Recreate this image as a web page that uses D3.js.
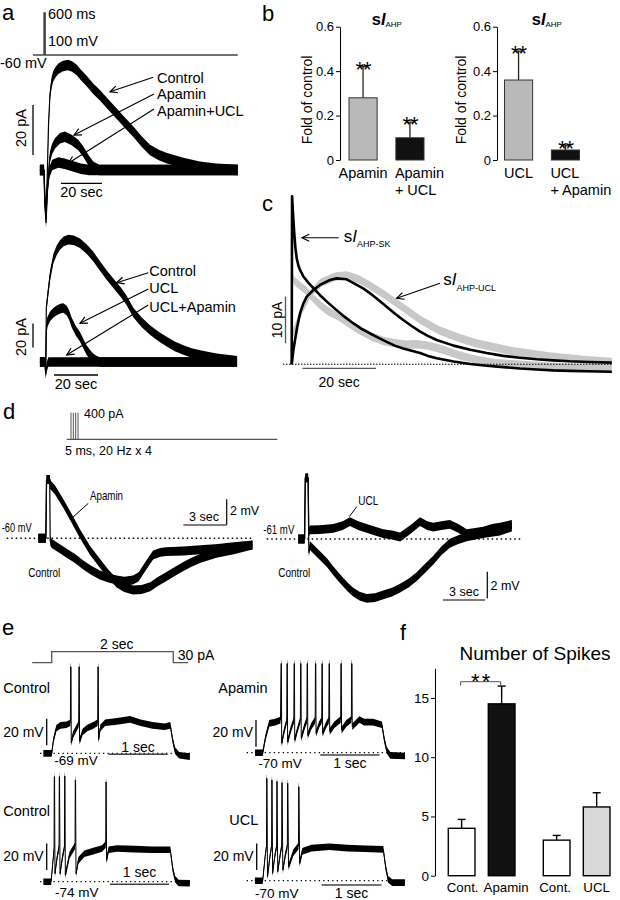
<!DOCTYPE html>
<html><head><meta charset="utf-8">
<script src="https://cdn.jsdelivr.net/npm/d3@7"></script>
<style>
body{margin:0;background:#fff}
svg{display:block;font-family:"Liberation Sans",Arial,Helvetica,sans-serif}
</style></head><body>
<svg id="fig" width="620" height="900"></svg>
<script>
// ---------------- DATA ----------------
// Panel a: voltage command (s, mV) and sIAHP traces (s, pA)
const aCommand = [[-5.4,-60],[0,-60],[0,40],[0.6,40],[0.6,-60],[94.5,-60]];
const aTopControl = [[-2,0],[0,0],[0.4,-10],[0.9,-18],[1.5,-5],[2.2,18],[2.9,30],[3.7,35],[4.5,37.5],[5.5,39],[7,40.5],[9,41.5],[11.5,42],[13.5,41.5],[16,40],[18,38],[20.8,35.6],[24,32.5],[27.3,29.9],[31,26.5],[34.6,23.3],[39,19.3],[43.6,15.3],[47.5,11.5],[51.7,8],[56,6],[60,4.7],[68,2.8],[76,1.3],[84,0.5],[94.5,0]];
const aTopApamin = [[-2,0],[0,0],[0.4,-12],[1,-19],[1.7,-6],[2.9,5.3],[4,8.5],[5.4,10.7],[7.8,12.7],[10.2,13.3],[13.5,12],[16.7,10],[19.2,7.3],[21.6,4],[24,1.3],[27,0],[94.5,0]];
const aTopApaminUCL = [[-2,0],[0,0],[0.4,-14],[1,-21],[1.7,-8],[2.6,-1],[4,2],[7,3],[10,2.5],[14,1.5],[18,0.5],[22,0],[94.5,0]];
const aBotControl = [[-2.3,0],[0,0],[0.3,-8],[0.6,45],[1.2,55],[2.3,72],[3.8,86],[5.3,93],[6.8,97.5],[8.5,100.5],[10.6,102],[13,101.5],[15.9,99],[19,94],[21.9,88],[25,80],[28,72.5],[31.8,64],[34.5,58],[37,51.7],[40.2,41],[44,33],[47.7,26.7],[51.5,21.5],[55.3,17],[59,13],[62.9,10],[66.7,7.5],[70.5,5.8],[78,3],[85.6,1.4],[87.3,1]];
const aBotUCL = [[-2.3,0],[0,0],[0.3,-8],[0.6,25],[1,33],[2.3,38],[3.8,41],[5.3,43],[7,44.5],[8.3,45],[9.8,43],[11,39],[12.1,33],[14,26],[15.9,21],[17.5,15],[18.9,10],[20.5,6],[21.9,3],[23.5,1],[25,0],[87.3,0]];
const aBotUCLApamin = [[-2.3,0],[0,0],[0.3,-10],[0.8,-4],[1.5,0],[87.3,0]];

// Panel b: fold of control
const bLeftCats = [["Apamin"],["Apamin","+ UCL"]];
const bLeftMeans = [0.28, 0.10];
const bLeftErr = [0.14, 0.07];
const bRightCats = [["UCL"],["UCL","+ Apamin"]];
const bRightMeans = [0.36, 0.045];
const bRightErr = [0.13, 0.019];
const bTicks = [0, 0.2, 0.4, 0.6];

// Panel c: sIAHP components (s, pA)
const cGraySK = [[0.3,19],[0.6,18],[1.2,17.5],[2,17],[3.7,15.9],[6,14],[8,12.5],[10,11.3],[12.8,10.2],[15,9],[18,7.5],[21.8,5.9],[25,5],[28,4.5],[31,4.2],[34,4.3],[37,4.0],[40,3.4],[43,2.6],[46,1.8],[50,1.0],[55,0.3],[60,0],[70,-0.5],[80,-0.9],[87,-1]];
const cGrayUCL = [[0,6],[0.5,7],[1.5,9],[3,12],[5,15],[8,17.5],[12,18.8],[15,19],[18,18.3],[21,17],[25,15],[30,12.3],[35,9.5],[40,7.3],[45,5.8],[50,4.5],[60,2.8],[70,1.7],[80,0.9],[87,0.5]];
const cFitSK = [[0,0],[0.1,36],[0.3,33],[0.63,28.8],[1,25],[1.36,22.7],[1.8,21.2],[2.26,20.2],[3.17,18.8],[4.5,17.5],[5.9,16.3],[7.7,14.8],[10,13.1],[12.2,11.6],[14.5,10.1],[16.7,8.8],[19,7.6],[21.3,6.6],[23.5,5.7],[25.8,4.8],[28,4.0],[30.3,3.4],[32.6,2.9],[34.9,2.4],[37,1.8],[39.4,1.3],[44,0.6],[48.5,0.06],[53,-0.3],[57.5,-0.6],[62,-0.9],[66.6,-1.1],[71,-1.3],[75.6,-1.4],[81,-1.5],[87,-1.6]];
const cFitUCL = [[0,0],[0.45,3],[0.9,5.2],[1.5,8],[2.26,10.9],[3.1,12.9],[4.08,14.5],[5.9,15.9],[7.7,17],[10.4,18.05],[12.2,18.4],[14.9,18.2],[17.7,17],[19.5,16.2],[21.3,15.2],[23.5,13.8],[25.8,12.3],[28,10.9],[30.3,9.5],[32.6,8.2],[34.9,7],[37,6.1],[39.4,5.2],[44,4],[48.5,3.1],[53,2.4],[57.5,1.8],[62,1.4],[66.6,1.07],[71,0.85],[75.6,0.64],[81,0.5],[87,0.35]];

// Panel d: stimulus pulses (ms) and membrane potential (s, mV)
const dPulses = [0, 50, 100, 150];
const dLeftControl = [[-0.67,0],[-0.15,0],[-0.1,4.6],[0.12,4.6],[0.15,-0.2],[0.26,-0.4],[0.8,-0.8],[1.3,-1.17],[1.9,-1.6],[2.45,-2.08],[3.0,-2.5],[3.6,-2.87],[4.2,-3.1],[4.77,-3.26],[5.3,-3.35],[5.9,-3.26],[6.3,-3.0],[6.6,-2.48],[7.0,-1.8],[7.3,-1.3],[7.8,-1.1],[8.2,-1.04],[9.4,-1.0],[10.6,-0.9],[11.8,-0.8],[12.9,-0.65],[14.2,-0.52]];
const dLeftApamin = [[-0.67,0],[-0.15,0],[-0.1,4.6],[0.12,4.6],[0.15,4.2],[0.49,3.77],[1.06,2.73],[1.64,1.56],[2.2,0.39],[2.9,-0.91],[3.6,-1.95],[4.2,-2.8],[4.77,-3.5],[5.3,-3.85],[5.9,-4.04],[6.5,-4.0],[7.1,-3.78],[7.6,-3.4],[8.2,-3.0],[8.8,-2.6],[9.4,-2.2],[10.0,-1.85],[10.6,-1.56],[11.7,-1.17],[12.9,-0.9],[14.2,-0.52]];
const dRightUCL = [[-0.55,0],[-0.1,0],[-0.05,4.6],[0.15,4.6],[0.2,0.5],[0.28,0.68],[1.0,0.7],[1.94,0.8],[2.6,1.0],[3.12,1.3],[3.7,1.0],[4.3,0.8],[4.9,0.6],[5.48,0.4],[6.1,0.3],[6.67,0.15],[7.4,0.7],[8.09,1.3],[8.6,1.0],[9.03,0.9],[9.6,1.0],[10.2,1.1],[10.8,0.8],[11.4,0.4],[12.0,0.5],[12.57,0.6],[13.2,0.8],[13.76,0.9],[14.6,1.1]];
const dRightControl = [[-0.55,0],[-0.1,0],[-0.05,4.6],[0.15,4.6],[0.2,-1.0],[0.28,-0.5],[0.99,-1.25],[1.5,-1.8],[1.94,-2.4],[2.3,-2.85],[2.65,-3.26],[3.0,-3.65],[3.35,-4.0],[3.8,-4.3],[4.3,-4.46],[4.9,-4.4],[5.48,-4.2],[6.1,-4.0],[6.67,-3.7],[7.3,-3.3],[7.85,-2.83],[8.45,-2.2],[9.03,-1.58],[9.6,-0.9],[10.2,-0.32],[10.8,-0.05],[11.4,0.17],[12.57,0.4],[13.76,0.6],[14.6,0.9]];

// Panel e: current step (s, pA) and firing (s, mV above rest)
const eCommand = [[-0.33,0],[0,0],[0,30],[2.05,30],[2.05,0],[2.3,0]];
const eControl1 = [[-0.14,0],[0,0],[0.03,10],[0.08,19],[0.15,21],[0.25,21.5],[0.315,23],[0.32,65],[0.325,65],[0.33,8],[0.36,14],[0.42,19],[0.455,22],[0.46,65],[0.465,65],[0.47,9],[0.52,16],[0.6,19],[0.7,21],[0.775,23],[0.78,65],[0.785,65],[0.79,10],[0.82,19],[0.9,23],[1.1,24],[1.32,25.5],[1.5,23],[1.7,21],[1.9,20],[2.0,21],[2.04,10],[2.08,2],[2.15,-1.5],[2.33,-2.5]];
const eApamin = [[-0.14,0],[-0.01,0],[0.04,12],[0.1,22],[0.2,23],[0.29,24.5],[0.30,67],[0.305,67],[0.31,7],[0.35,16],[0.395,24],[0.40,67],[0.405,67],[0.41,8],[0.46,17],[0.515,24.5],[0.52,67],[0.525,67],[0.53,9.5],[0.58,18],[0.625,24.5],[0.63,67],[0.635,67],[0.64,11],[0.69,19],[0.735,24.5],[0.74,67],[0.745,67],[0.75,13],[0.81,20],[0.875,24.5],[0.88,67],[0.885,67],[0.89,14.5],[0.94,21],[0.985,24.5],[0.99,67],[0.995,67],[1.0,14.5],[1.06,21],[1.105,24.5],[1.11,67],[1.115,67],[1.12,16],[1.2,21],[1.305,25],[1.31,67],[1.315,67],[1.32,17],[1.4,22],[1.485,25],[1.49,67],[1.495,67],[1.5,19.5],[1.6,24],[1.62,25],[1.7,23],[1.85,23],[2.0,21],[2.04,10],[2.08,2],[2.14,-2],[2.39,-2.5]];
const eControl2 = [[-0.14,0],[-0.01,0],[0.02,15],[0.04,25],[0.044,79],[0.048,79],[0.055,6],[0.09,18],[0.124,26],[0.128,79],[0.132,79],[0.14,6],[0.18,18],[0.215,26],[0.219,79.5],[0.223,79.5],[0.23,5],[0.3,20],[0.394,27],[0.398,76.5],[0.402,76.5],[0.41,6],[0.45,16],[0.55,21],[0.7,23],[0.85,25],[0.911,28],[0.915,75],[0.919,75],[0.925,16],[0.96,24],[1.1,25],[1.4,24.5],[1.7,24],[2.0,24],[2.04,10],[2.08,2],[2.14,-1],[2.33,-1.2]];
const eUCL = [[-0.14,0],[-0.01,0],[0.03,18],[0.053,26],[0.057,77],[0.061,77],[0.07,3],[0.11,18],[0.138,26],[0.142,75.7],[0.146,75.7],[0.155,5.5],[0.19,18],[0.222,26],[0.226,74.5],[0.23,74.5],[0.24,6.8],[0.28,19],[0.306,26],[0.31,73.7],[0.314,73.7],[0.325,8],[0.37,20],[0.401,26],[0.405,73.3],[0.409,73.3],[0.42,10.5],[0.5,21],[0.586,26],[0.59,70.7],[0.594,70.7],[0.605,13],[0.65,22],[0.8,24.5],[1.1,25.5],[1.4,24.5],[1.7,24],[2.0,23.5],[2.04,10],[2.08,1],[2.15,-1.5],[2.36,-1.5]];

// Panel f: number of spikes
const fCats = ["Cont.", "Apamin", "Cont.", "UCL"];
const fMeans = [4.0, 14.5, 3.0, 5.8];
const fErr = [0.75, 1.5, 0.4, 1.2];
const fFills = ["#ffffff", "#111111", "#ffffff", "#d9d9d9"];
const fTicks = [0, 5, 10, 15];

// ---------------- HELPERS ----------------
const svg = d3.select("#fig");
const FONT = '"Liberation Sans",Arial,Helvetica,sans-serif';
const NARROW = '"Liberation Sans Narrow","Arial Narrow","Liberation Sans",Arial,sans-serif';

function trace(g, data, x, y, o = {}) {
  const noise = o.noise || 0, color = o.color || "#000", w = o.width || 1.2;
  if (noise) {
    g.append("path")
      .attr("d", d3.area().x(d => x(d[0])).y0(d => y(d[1] - noise)).y1(d => y(d[1] + noise))(data))
      .attr("fill", color);
  }
  g.append("path")
    .attr("d", d3.line().x(d => x(d[0])).y(d => y(d[1]))(data))
    .attr("fill", "none").attr("stroke", color).attr("stroke-width", w)
    .attr("stroke-linejoin", "round");
}
function ln(x1, y1, x2, y2, o = {}) {
  return svg.append("line").attr("x1", x1).attr("y1", y1).attr("x2", x2).attr("y2", y2)
    .attr("stroke", o.color || "#000").attr("stroke-width", o.width || 1.2)
    .attr("stroke-dasharray", o.dash || null);
}
function txt(x, y, s, o = {}) {
  const t = svg.append("text").attr("x", x).attr("y", y).text(s)
    .attr("font-size", o.size || 14).attr("fill", o.color || "#000")
    .attr("text-anchor", o.anchor || "start")
    .attr("font-family", o.family || FONT);
  if (o.weight) t.attr("font-weight", o.weight);
  if (o.len) t.attr("textLength", o.len).attr("lengthAdjust", "spacingAndGlyphs");
  if (o.ls) t.attr("letter-spacing", o.ls);
  return t;
}
function rtxt(x, y, s, size) {
  svg.append("text").attr("transform", `translate(${x},${y}) rotate(-90)`)
    .attr("text-anchor", "middle").attr("font-size", size).attr("font-family", FONT).text(s);
}
function arrow(x1, y1, x2, y2) {
  const ang = Math.atan2(y2 - y1, x2 - x1), L = 8, a = 0.45;
  svg.append("line").attr("x1", x1).attr("y1", y1).attr("x2", x2).attr("y2", y2)
    .attr("stroke", "#000").attr("stroke-width", 1.1);
  const p = d3.path();
  p.moveTo(x2 - L * Math.cos(ang - a), y2 - L * Math.sin(ang - a));
  p.lineTo(x2, y2);
  p.lineTo(x2 - L * Math.cos(ang + a), y2 - L * Math.sin(ang + a));
  svg.append("path").attr("d", p.toString()).attr("fill", "none").attr("stroke", "#000").attr("stroke-width", 1.2);
}
function sIlabel(x, y, sub, size, subSize, dy, bold) {
  const t = svg.append("text").attr("x", x).attr("y", y).attr("font-family", FONT).attr("font-size", size);
  t.append("tspan").text("s").attr("font-weight", bold ? "bold" : null);
  t.append("tspan").text("I").attr("font-style", "italic").attr("font-weight", bold ? "bold" : null);
  t.append("tspan").text(sub).attr("font-size", subSize).attr("dy", dy);
}
function panelLabel(x, y, s) { txt(x, y, s, { size: 22 }); }

// ---------------- PANEL A ----------------
panelLabel(2, 20, "a");
{
  const x = d3.scaleLinear().domain([0, 20]).range([44, 85]);
  const y = d3.scaleLinear().domain([0, 20]).range([170, 120]);
  const yCmd = d3.scaleLinear().domain([-60, 40]).range([55, 13]);
  const g = svg.append("g");
  g.append("path").attr("d", d3.line().x(d => x(d[0])).y(d => yCmd(d[1]))(aCommand))
    .attr("fill", "none").attr("stroke", "#444").attr("stroke-width", 1.3);
  txt(48, 18.5, "600 ms", { size: 14.5 });
  txt(48, 46, "100 mV", { size: 14.5 });
  txt(0, 68, "-60 mV", { size: 14.5 });
  trace(g, aTopApaminUCL, x, y, { noise: 2.1 });
  trace(g, aTopApamin, x, y, { noise: 2.1 });
  trace(g, aTopControl, x, y, { noise: 2.1 });
  ln(x(8.3), 183.3, x(28.3), 183.3, { width: 1.3 });
  ln(33, y(6), 33, y(26), { width: 1.3 });
  rtxt(26, 128, "20 pA", 14.5);
  txt((x(8.3) + x(28.3)) / 2, 196.5, "20 sec", { size: 14.5, anchor: "middle" });
  txt(157, 83, "Control", { size: 14.5 });
  txt(157, 99, "Apamin", { size: 14.5 });
  txt(157, 115.5, "Apamin+UCL", { size: 14.5 });
  arrow(153.3, 77.3, 110, 91.7);
  arrow(154, 94, 74, 135);
  arrow(154, 109, 68.3, 163.3);
}
{
  const x = d3.scaleLinear().domain([0, 20]).range([45, 89]);
  const y = d3.scaleLinear().domain([0, 20]).range([362, 338]);
  const g = svg.append("g");
  trace(g, aBotUCLApamin, x, y, { noise: 4 });
  trace(g, aBotUCL, x, y, { noise: 4 });
  trace(g, aBotControl, x, y, { noise: 4 });
  ln(x(4.1), 375, x(24.1), 375, { width: 1.3 });
  ln(33, y(12), 33, y(32), { width: 1.3 });
  rtxt(26, 337, "20 pA", 14.5);
  txt((x(4.1) + x(24.1)) / 2, 389, "20 sec", { size: 14.5, anchor: "middle" });
  txt(149.3, 276, "Control", { size: 14.5 });
  txt(149.3, 293.3, "UCL", { size: 14.5 });
  txt(149.3, 311.7, "UCL+Apamin", { size: 14.5 });
  arrow(148.3, 272.7, 116.7, 282.7);
  arrow(148.3, 289, 80, 323.3);
  arrow(148.3, 305, 66.7, 355);
}

// ---------------- PANEL B ----------------
panelLabel(262, 21, "b");
const yB = d3.scaleLinear().domain([0, 0.6]).range([160, 26.7]);
function barB(axisX, off, cats, means, errs, titleX, ylabX) {
  const xb = d3.scaleBand().domain(d3.range(cats.length)).range([axisX + off, axisX + off + 75]).paddingInner(0.4).paddingOuter(0);
  const fills = ["#b9b9b9", "#111111"];
  const ax = svg.append("g").attr("transform", `translate(${axisX},0)`)
    .call(d3.axisLeft(yB).tickValues(bTicks).tickSize(4).tickSizeOuter(0).tickPadding(2)
      .tickFormat(d => d === 0 ? "0" : d.toFixed(1)));
  ax.selectAll("text").attr("font-size", 13).attr("font-family", FONT).attr("fill", "#000");
  ax.selectAll("path,line").attr("stroke", "#000");
  rtxt(ylabX, 100, "Fold of control", 14);
  sIlabel(titleX, 25, "AHP", 16.5, 8, 2, true);
  means.forEach((m, i) => {
    const bx = xb(i), bw = xb.bandwidth(), cx = bx + bw / 2;
    const top = yB(m), et = yB(m + errs[i]);
    ln(cx, top, cx, et, { width: 1.3, color: "#222" });
    ln(cx - 4, et, cx + 4, et, { width: 1.3, color: "#222" });
    svg.append("rect").attr("x", bx).attr("y", top).attr("width", bw).attr("height", yB(0) - top)
      .attr("fill", fills[i]).attr("stroke", "#333").attr("stroke-width", 1);
    txt(cx, et + 10, "**", { size: 22, anchor: "middle", ls: -1 });
    cats[i].forEach((lab, j) => {
      if (i === 0) txt(cx, 178 + j * 17, lab, { size: 14.5, anchor: "middle" });
      else txt(bx - 1, 178 + j * 17, lab, { size: 14.5 });
    });
  });
}
barB(340, 9, bLeftCats, bLeftMeans, bLeftErr, 371.7, 312);
barB(497, 7.5, bRightCats, bRightMeans, bRightErr, 531.7, 466);

// ---------------- PANEL C ----------------
panelLabel(262, 211, "c");
{
  const x = d3.scaleLinear().domain([0, 20]).range([291.7, 365.3]);
  const y = d3.scaleLinear().domain([0, 10]).range([364.3, 317.6]);
  const g = svg.append("g");
  ln(283, y(0), 613, y(0), { width: 1.1, dash: "1.5,1.5" });
  trace(g, cGraySK, x, y, { noise: 0.9, color: "#c8c8c8", width: 1 });
  trace(g, cGrayUCL, x, y, { noise: 0.9, color: "#c8c8c8", width: 1 });
  trace(g, cFitUCL, x, y, { width: 2.6 });
  trace(g, cFitSK, x, y, { width: 2.6 });
  ln(285.5, y(4.5), 285.5, y(14.5), { width: 1.3, color: "#555" });
  ln(x(2.9), 368.3, x(22.9), 368.3, { width: 1.3, color: "#555" });
  rtxt(282, 320, "10 pA", 14);
  txt((x(2.9) + x(22.9)) / 2, 387, "20 sec", { size: 14, anchor: "middle" });
  arrow(338.7, 237.7, 302, 237.7);
  sIlabel(343.7, 241.7, "AHP-SK", 17, 9, 5, false);
  arrow(440, 283.3, 396.7, 298.3);
  sIlabel(443.3, 285, "AHP-UCL", 17, 9, 5.5, false);
}

// ---------------- PANEL D ----------------
panelLabel(3, 419, "d");
{
  const xp = d3.scaleLinear().domain([0, 150]).range([71, 78]);
  const yp = d3.scaleLinear().domain([0, 400]).range([439.3, 412.7]);
  dPulses.forEach(p => ln(xp(p), yp(0), xp(p), yp(400), { width: 1, color: "#555" }));
  ln(66.7, yp(0), 277.3, yp(0), { width: 1.2, color: "#555" });
  txt(84, 418.3, "400 pA", { size: 12.5 });
  txt(65, 455, "5 ms, 20 Hz x 4", { size: 12.5 });
}
{
  const x = d3.scaleLinear().domain([0, 3]).range([48, 91.2]);
  const y = d3.scaleLinear().domain([0, 2]).range([538.3, 512.7]);
  const g = svg.append("g");
  trace(g, dLeftControl, x, y, { noise: 0.35 });
  trace(g, dLeftApamin, x, y, { noise: 0.35 });
  ln(6.7, y(0), 253, y(0), { width: 1.4, dash: "1.5,3" });
  txt(1.7, 531.7, "-60 mV", { size: 13, family: NARROW, len: 30 });
  txt(90, 500, "Apamin", { size: 13, family: NARROW, len: 33 });
  ln(88.3, 503.3, 71.7, 518.3, { width: 1 });
  txt(28.3, 576.5, "Control", { size: 13, family: NARROW, len: 32 });
  ln(x(9.4), 525, x(12.4), 525, { width: 1.2 });
  ln(226.7, y(1.05), 226.7, y(3.05), { width: 1.2 });
  txt(204, 521, "3 sec", { size: 12.5, anchor: "middle" });
  txt(230, 515, "2 mV", { size: 12.5 });
}
{
  const x = d3.scaleLinear().domain([0, 3]).range([306, 348.3]);
  const y = d3.scaleLinear().domain([0, 2]).range([539, 512.4]);
  const g = svg.append("g");
  trace(g, dRightControl, x, y, { noise: 0.33 });
  trace(g, dRightUCL, x, y, { noise: 0.33 });
  ln(266.7, y(0), 522.7, y(0), { width: 1.4, dash: "1.5,3" });
  txt(263.3, 534, "-61 mV", { size: 13, family: NARROW, len: 31 });
  txt(358.3, 505, "UCL", { size: 13, family: NARROW, len: 20 });
  ln(356.7, 506.7, 349.3, 516.7, { width: 1 });
  txt(278.3, 576.7, "Control", { size: 13, family: NARROW, len: 32 });
  ln(x(9.7), 600, x(12.7), 600, { width: 1.2 });
  ln(487.3, y(-2.46), 487.3, y(-4.46), { width: 1.2 });
  txt(464, 596, "3 sec", { size: 12.5, anchor: "middle" });
  txt(490.5, 590, "2 mV", { size: 12.5 });
}

// ---------------- PANEL E ----------------
panelLabel(2, 635, "e");
function ePanel(trc, x, y, o) {
  const g = svg.append("g");
  ln(o.dot0, y(0), o.dot1, y(0), { width: 1.3, dash: "1.3,3.2" });
  trace(g, trc, x, y, { noise: 2.5, width: 1 });
  ln(x(o.sb), o.sbY, x(o.sb + 1), o.sbY, { width: 1.4, color: "#444" });
  ln(o.vbX, y(o.vb), o.vbX, y(o.vb + 20), { width: 1.3 });
  txt(o.vbX - 3, o.vtY, "20 mV", { size: 14, anchor: "end" });
  txt((x(o.sb) + x(o.sb + 1)) / 2, o.stY, "1 sec", { size: 14, anchor: "middle" });
  txt(o.rx, o.rY, o.rest, { size: 13.5 });
  txt(o.lx, o.lY, o.label, { size: 14.5 });
}
{
  const x = d3.scaleLinear().domain([0, 1]).range([51.7, 111]);
  const yc = d3.scaleLinear().domain([0, 30]).range([662.7, 651.7]);
  svg.append("path").attr("d", d3.line().x(d => x(d[0])).y(d => yc(d[1]))(eCommand))
    .attr("fill", "none").attr("stroke", "#555").attr("stroke-width", 1.3);
  txt(116.7, 649.3, "2 sec", { size: 14, anchor: "middle" });
  txt(177.7, 660, "30 pA", { size: 14 });
}
ePanel(eControl1, d3.scaleLinear().domain([0, 1]).range([51.7, 111]), d3.scaleLinear().domain([0, 20]).range([753.3, 726.7]),
  { dot0: 40, dot1: 190, sb: 0.955, sbY: 754.3, stY: 751.7, vbX: 46.7, vb: 6, vtY: 736.7, rx: 54.3, rY: 765, rest: "-69 mV", lx: 3.3, lY: 692.7, label: "Control" });
ePanel(eApamin, d3.scaleLinear().domain([0, 1]).range([263.3, 322.6]), d3.scaleLinear().domain([0, 20]).range([752.7, 726.1]),
  { dot0: 246.7, dot1: 405, sb: 0.96, sbY: 755, stY: 768.3, vbX: 256, vb: 4.5, vtY: 737, rx: 258.3, rY: 768.3, rest: "-70 mV", lx: 218.3, lY: 692.7, label: "Apamin" });
ePanel(eControl2, d3.scaleLinear().domain([0, 1]).range([51.7, 111]), d3.scaleLinear().domain([0, 20]).range([881.7, 855.1]),
  { dot0: 40, dot1: 190, sb: 0.98, sbY: 884.3, stY: 876.7, vbX: 46.7, vb: 8.8, vtY: 861, rx: 55, rY: 897, rest: "-74 mV", lx: 3.3, lY: 816, label: "Control" });
ePanel(eUCL, d3.scaleLinear().domain([0, 1]).range([263.3, 323.3]), d3.scaleLinear().domain([0, 20]).range([880.7, 854.1]),
  { dot0: 246.7, dot1: 405, sb: 0.97, sbY: 885, stY: 898, vbX: 256.7, vb: 8, vtY: 861, rx: 255, rY: 898, rest: "-70 mV", lx: 229.3, lY: 825, label: "UCL" });

// ---------------- PANEL F ----------------
panelLabel(400, 640, "f");
{
  const yF = d3.scaleLinear().domain([0, 17.5]).range([875.7, 668.3]);
  const grp = d3.scaleBand().domain([0, 1]).range([448.3, 610]).paddingInner(0.298).paddingOuter(0);
  const inner = d3.scaleBand().domain([0, 1]).range([0, grp.bandwidth()]).paddingInner(0.333);
  const xF = i => grp(Math.floor(i / 2)) + inner(i % 2);
  const bw = inner.bandwidth();
  const labelShift = [1, 4.5, -1.5, 0];
  const ax = svg.append("g").attr("transform", "translate(435,0)")
    .call(d3.axisLeft(yF).tickValues(fTicks).tickSize(4).tickSizeOuter(0).tickPadding(2));
  ax.selectAll("text").attr("font-size", 13.5).attr("font-family", FONT).attr("fill", "#000");
  ax.selectAll("path,line").attr("stroke", "#000");
  txt(535, 660, "Number of Spikes", { size: 19, anchor: "middle" });
  fMeans.forEach((m, i) => {
    const bx = xF(i), cx = bx + bw / 2, top = yF(m), et = yF(m + fErr[i]);
    ln(cx, top, cx, et, { width: 1.4 });
    ln(cx - 4, et, cx + 4, et, { width: 1.4 });
    svg.append("rect").attr("x", bx).attr("y", top).attr("width", bw).attr("height", yF(0) - top)
      .attr("fill", fFills[i]).attr("stroke", "#000").attr("stroke-width", 1.4);
    txt(cx + labelShift[i], 891.7, fCats[i], { size: 13.3, anchor: "middle" });
  });
  const c0 = xF(0) + bw / 2, c1 = xF(1) + bw / 2;
  svg.append("path").attr("d", `M${c0 - 1},685.5V681.7H${c1 - 1}V685.5`).attr("fill", "none")
    .attr("stroke", "#555").attr("stroke-width", 1);
  txt((c0 + c1) / 2, 688.5, "**", { size: 22, anchor: "middle", ls: 2 });
}
</script>
</body></html>
